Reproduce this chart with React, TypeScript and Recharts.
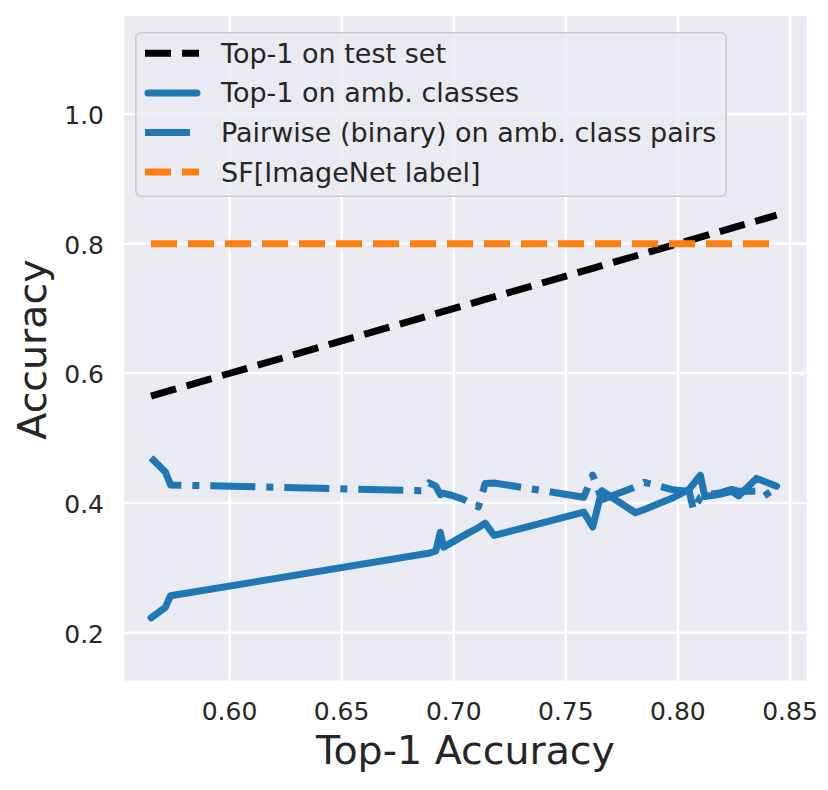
import React from 'react';
import { LineChart, Line, XAxis, YAxis, CartesianGrid, Legend } from 'recharts';

// Model top-1 accuracies (x positions)
const modelAcc = [0.565, 0.5714, 0.5737, 0.686, 0.689, 0.692, 0.694, 0.6955, 0.699, 0.704, 0.711, 0.714, 0.718, 0.758, 0.762, 0.766, 0.781, 0.785, 0.797, 0.805, 0.807, 0.810, 0.812, 0.818, 0.824, 0.827, 0.835, 0.838, 0.844];
// Top-1 on test set (same as model accuracy)
const testTop1 = [0.565, 0.5714, 0.5737, 0.686, 0.689, 0.692, 0.694, 0.6955, 0.699, 0.704, 0.711, 0.714, 0.718, 0.758, 0.762, 0.766, 0.781, 0.785, 0.797, 0.805, 0.807, 0.810, 0.812, 0.818, 0.824, 0.827, 0.835, 0.838, 0.844];
// Top-1 on ambiguous classes
const ambTop1 = [0.223, 0.239, 0.257, 0.321, 0.3225, 0.326, 0.355, 0.332, 0.339, 0.349, 0.362, 0.369, 0.350, 0.386, 0.363, 0.419, 0.385, 0.390, 0.407, 0.421, 0.430, 0.443, 0.410, 0.413, 0.418, 0.411, 0.438, 0.434, 0.426];
// Pairwise (binary) on ambiguous class pairs
const pairAcc = [0.470, 0.448, 0.428, 0.419, 0.431, 0.426, 0.413, 0.415, 0.412, 0.406, 0.394, 0.430, 0.431, 0.409, 0.443, 0.405, 0.425, 0.432, 0.421, 0.418, 0.389, 0.409, 0.413, 0.415, 0.421, 0.418, 0.418, 0.410, 0.424];
// SF[ImageNet label]
const sfAcc = [0.8, 0.8, 0.8, 0.8, 0.8, 0.8, 0.8, 0.8, 0.8, 0.8, 0.8, 0.8, 0.8, 0.8, 0.8, 0.8, 0.8, 0.8, 0.8, 0.8, 0.8, 0.8, 0.8, 0.8, 0.8, 0.8, 0.8, 0.8, 0.8];

const xTicks = [0.6, 0.65, 0.7, 0.75, 0.8, 0.85];
const yTicks = [0.2, 0.4, 0.6, 0.8, 1.0];

const seriesNames = ['Top-1 on test set', 'Top-1 on amb. classes', 'Pairwise (binary) on amb. class pairs', 'SF[ImageNet label]'];

const data = modelAcc.map((acc, i) => ({
  acc,
  test: testTop1[i],
  amb: ambTop1[i],
  pair: pairAcc[i],
  sf: sfAcc[i],
}));

const FONT = '"DejaVu Sans", sans-serif';
const TXT = '#262626';
const BLUE = '#1f77b4';
const ORANGE = '#ff7f0e';
const LW = 7;
const DASH = '26 11';
const DASHDOT = '45 11 7 11';

const legendStyles = [
  { color: '#000000', dash: DASH, cap: 'butt' },
  { color: BLUE, dash: undefined, cap: 'round' },
  { color: BLUE, dash: DASHDOT, cap: 'butt' },
  { color: ORANGE, dash: DASH, cap: 'butt' },
];

const renderLegend = () => (
  <svg width={592} height={165} style={{ display: 'block' }}>
    <rect x={0.75} y={0.75} width={590.5} height={163.5} rx={5} fill="#EAEAF2" fillOpacity={0.8} stroke="#cccccc" strokeWidth={1.5} />
    {seriesNames.map((name, i) => {
      const cy = 21.3 + i * 39.6;
      const st = legendStyles[i];
      return (
        <g key={name}>
          <line
            x1={st.cap === 'round' ? 13 : 10}
            x2={st.cap === 'round' ? 62 : 64}
            y1={cy}
            y2={cy}
            stroke={st.color}
            strokeWidth={LW}
            strokeDasharray={st.dash}
            strokeLinecap={st.cap as any}
          />
          <text x={86} y={cy} dominantBaseline="central" fontSize={27} fontFamily={FONT} fill={TXT}>
            {name}
          </text>
        </g>
      );
    })}
  </svg>
);

const XTick = (p: any) => (
  <text x={p.x} y={p.y + 38} textAnchor="middle" fontSize={25} fontFamily={FONT} fill={TXT}>
    {Number(p.payload.value).toFixed(2)}
  </text>
);

const YTick = (p: any) => (
  <text x={p.x - 19} y={p.y + 10} textAnchor="end" fontSize={25} fontFamily={FONT} fill={TXT}>
    {Number(p.payload.value).toFixed(1)}
  </text>
);

const XLabel = (p: any) => {
  const vb = p.viewBox || { x: 115, y: 674, width: 685, height: 100 };
  return (
    <text x={vb.x + vb.width / 2} y={vb.y + 82} textAnchor="middle" fontSize={39.5} fontFamily={FONT} fill={TXT}>
      Top-1 Accuracy
    </text>
  );
};

const YLabel = (p: any) => {
  const vb = p.viewBox || { x: 0, y: 7, width: 115, height: 667 };
  const cx = 38;
  const cy = vb.y + vb.height / 2 + 1;
  return (
    <text x={cx} y={cy} textAnchor="middle" fontSize={39.5} fontFamily={FONT} fill={TXT} transform={`rotate(-90, ${cx}, ${cy})`}>
      Accuracy
    </text>
  );
};

export default function App() {
  return (
    <div style={{ width: 812, height: 774, background: '#ffffff' }}>
      <LineChart width={812} height={774} data={data} margin={{ top: 7, right: 12, left: 0, bottom: 0 }}>
        <CartesianGrid fill="#EAEAF2" stroke="#ffffff" strokeWidth={2.5} />
        <XAxis
          dataKey="acc"
          type="number"
          domain={[0.5525, 0.858]}
          allowDataOverflow
          ticks={xTicks}
          tick={XTick}
          tickLine={false}
          axisLine={false}
          tickSize={0}
          tickMargin={0}
          height={100}
          label={XLabel}
        />
        <YAxis
          type="number"
          domain={[0.124, 1.1527]}
          allowDataOverflow
          ticks={yTicks}
          tick={YTick}
          tickLine={false}
          axisLine={false}
          tickSize={0}
          tickMargin={0}
          width={115}
          label={YLabel}
        />
        <Legend
          layout="horizontal"
          verticalAlign="middle"
          align="center"
          content={renderLegend}
          wrapperStyle={{ position: 'absolute', left: 127, top: 24, width: 592, height: 165 }}
        />
        <Line type="linear" dataKey="test" name={seriesNames[0]} stroke="#000000" strokeWidth={LW} strokeDasharray={DASH} strokeLinecap="butt" dot={false} activeDot={false} isAnimationActive={false} />
        <Line type="linear" dataKey="amb" name={seriesNames[1]} stroke={BLUE} strokeWidth={LW} strokeLinecap="round" strokeLinejoin="round" dot={false} activeDot={false} isAnimationActive={false} />
        <Line type="linear" dataKey="pair" name={seriesNames[2]} stroke={BLUE} strokeWidth={LW} strokeDasharray={DASHDOT} strokeLinecap="butt" strokeLinejoin="round" dot={false} activeDot={false} isAnimationActive={false} />
        <Line type="linear" dataKey="sf" name={seriesNames[3]} stroke={ORANGE} strokeWidth={LW} strokeDasharray={DASH} strokeLinecap="butt" dot={false} activeDot={false} isAnimationActive={false} />
      </LineChart>
    </div>
  );
}
